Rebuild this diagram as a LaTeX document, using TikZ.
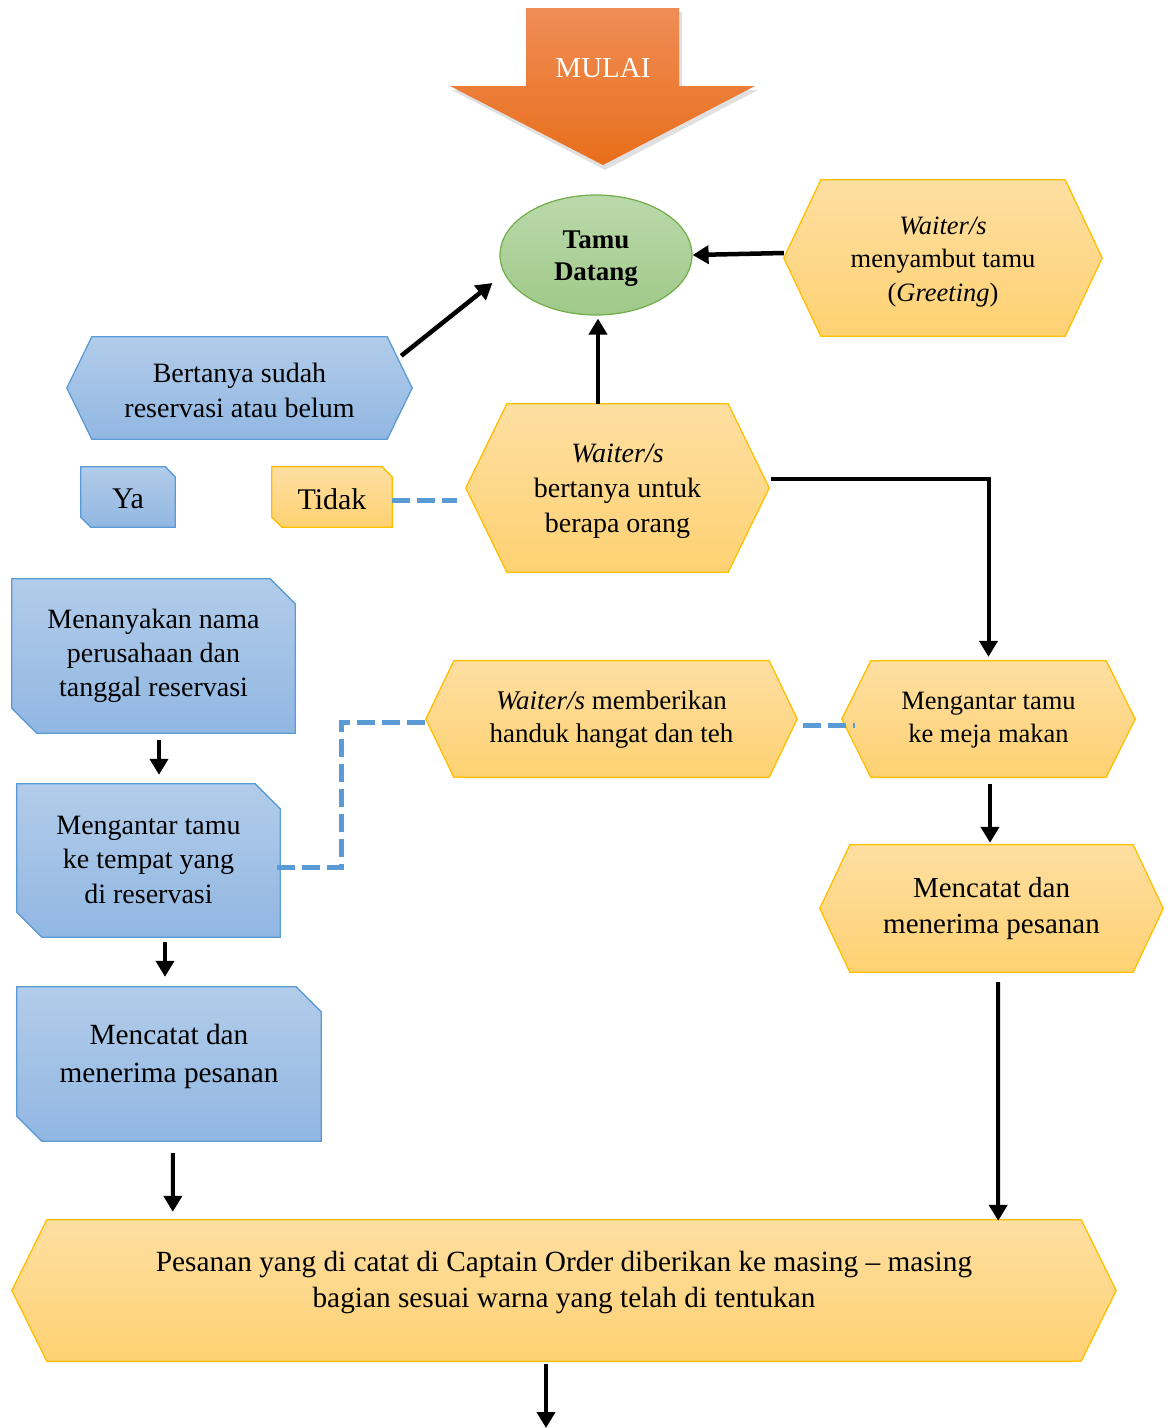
\documentclass[tikz,border=0pt]{standalone}
\usepackage{fontspec}
\setmainfont{Liberation Serif}
\usetikzlibrary{shapes.geometric,arrows.meta,calc,backgrounds}

\definecolor{ytop}{RGB}{254,223,162}
\definecolor{ybot}{RGB}{254,209,114}
\definecolor{yline}{RGB}{255,192,0}
\definecolor{btop}{RGB}{178,204,234}
\definecolor{bbot}{RGB}{145,183,226}
\definecolor{bline}{RGB}{91,155,213}
\definecolor{gtop}{RGB}{186,217,171}
\definecolor{gbot}{RGB}{160,201,137}
\definecolor{gline}{RGB}{112,173,71}
\definecolor{otop}{RGB}{240,141,87}
\definecolor{obot}{RGB}{232,110,26}

\newcommand\fs[2]{\fontsize{#1}{#2}\selectfont}
% hexagon drawn round a named rectangle node
\newcommand\hexbox[3]{\path[#3] (#1.west) -- ($(#1.north west)+(#2,0)$) -- ($(#1.north east)+(-#2,0)$) -- (#1.east) -- ($(#1.south east)+(-#2,0)$) -- ($(#1.south west)+(#2,0)$) -- cycle;}
% snipped-corner box drawn round a named rectangle node
\newcommand\snipbox[3]{\path[#3] (#1.north west) -- ($(#1.north east)+(-#2,0)$) -- ($(#1.north east)+(0,#2)$) -- (#1.south east) -- ($(#1.south west)+(#2,0)$) -- ($(#1.south west)+(0,-#2)$) -- cycle;}

\tikzset{
  shp/.style={rectangle, inner sep=0pt},
  txt/.style={inner sep=0pt, align=center},
  yel/.style={top color=ytop, bottom color=ybot, draw=yline, line width=1.3pt},
  blu/.style={top color=btop, bottom color=bbot, draw=bline, line width=1.3pt},
  arr/.style={line width=4.5pt, -{Triangle[length=16pt,width=18pt]}},
  dsh/.style={line width=5pt, draw=bline, dash pattern=on 18pt off 7pt},
}

\begin{document}
\begin{tikzpicture}[x=1pt,y=-1pt]
\useasboundingbox (0,0) rectangle (1171,1428);

% MULAI arrow (soft shadow then body)
\fill[black, opacity=0.12] (529,12) -- (682,12) -- (682,90) -- (758,90) -- (605,170) -- (452,90) -- (529,90) -- cycle;
\path[top color=otop, bottom color=obot] (526,8) -- (679,8) -- (679,86) -- (755,86) -- (603,165) -- (450,86) -- (526,86) -- cycle;
\node[txt, text=white, font=\fs{29}{31}] (mulai) at (603,68) {MULAI};

% shape nodes
\node[ellipse, draw=gline, line width=1.2pt, top color=gtop, bottom color=gbot,
      minimum width=192pt, minimum height=120pt, inner sep=0pt] (tamu) at (596,255) {};
\node[shp, minimum width=318pt, minimum height=156pt] (greet) at (943,258) {};
\node[shp, minimum width=345pt, minimum height=102pt] (bert) at (239.5,388) {};
\node[shp, minimum width=303pt, minimum height=168pt] (tanya) at (617.5,488) {};
\node[shp, minimum width=94pt, minimum height=60pt] (ya) at (128,497) {};
\node[shp, minimum width=120pt, minimum height=60pt] (tidak) at (332,497) {};
\node[shp, minimum width=283pt, minimum height=154pt] (nama) at (153.5,656) {};
\node[shp, minimum width=263pt, minimum height=153pt] (tempat) at (148.5,860.5) {};
\node[shp, minimum width=304pt, minimum height=154pt] (catatL) at (169,1064) {};
\node[shp, minimum width=371pt, minimum height=116pt] (waitmem) at (611.5,719) {};
\node[shp, minimum width=293pt, minimum height=116pt] (meja) at (988.5,719) {};
\node[shp, minimum width=343pt, minimum height=127pt] (catatR) at (991.5,908.5) {};
\node[shp, minimum width=1104pt, minimum height=141pt] (pesan) at (564,1290.5) {};
\coordinate (endpt) at (546,1428);

% shapes behind the texts
\begin{pgfonlayer}{background}
  \hexbox{greet}{37}{yel}
  \hexbox{bert}{25}{blu}
  \hexbox{tanya}{41}{yel}
  \snipbox{ya}{10}{blu}
  \snipbox{tidak}{10}{yel}
  \snipbox{nama}{25}{blu}
  \snipbox{tempat}{25}{blu}
  \snipbox{catatL}{25}{blu}
  \hexbox{waitmem}{28}{yel}
  \hexbox{meja}{29}{yel}
  \hexbox{catatR}{30}{yel}
  \hexbox{pesan}{35}{yel}
\end{pgfonlayer}

% texts
\node[txt, font=\bfseries\fs{27}{32}] (tamut) at ($(tamu)+(0,4)$) {Tamu\\Datang};
\node[txt, font=\fs{26.5}{33.5}] (greett) at ($(greet)+(0,4)$)
  {\textit{Waiter/s}\\menyambut tamu\\(\textit{Greeting})};
\node[txt, font=\fs{28}{35}] (bertt) at ($(bert)+(0,2)$) {Bertanya sudah\\reservasi atau belum};
\node[txt, font=\fs{28}{35}] (tanyat) at ($(tanya)+(0,3)$) {\textit{Waiter/s}\\bertanya untuk\\berapa orang};
\node[txt, font=\fs{30}{32}] (yat) at ($(ya)+(0,2)$) {Ya};
\node[txt, font=\fs{30}{32}] (tidakt) at ($(tidak)+(0,2)$) {Tidak};
\node[txt, font=\fs{28}{34}] (namat) at ($(nama)+(0,0)$) {Menanyakan nama\\perusahaan dan\\tanggal reservasi};
\node[txt, font=\fs{28}{34.5}] (tempatt) at ($(tempat)+(0,-1)$) {Mengantar tamu\\ke tempat yang\\di reservasi};
\node[txt, font=\fs{29.3}{38}] (catatLt) at ($(catatL)+(0,-8)$) {Mencatat dan\\menerima pesanan};
\node[txt, font=\fs{27}{33}] (waitmemt) at ($(waitmem)+(0,1)$) {\textit{Waiter/s} memberikan\\handuk hangat dan teh};
\node[txt, font=\fs{26.5}{33}] (mejat) at ($(meja)+(0,1)$) {Mengantar tamu\\ke meja makan};
\node[txt, font=\fs{29}{36}] (catatRt) at ($(catatR)+(0,0)$) {Mencatat dan\\menerima pesanan};
\node[txt, font=\fs{29.3}{36}] (pesant) at ($(pesan)+(0,-8)$)
  {Pesanan yang di catat di Captain Order diberikan ke masing -- masing\\bagian sesuai warna yang telah di tentukan};

% connectors
\draw[arr] ($(greet.west)+(0,-5)$) -- (tamu.east);
\draw[arr] ($(bert.north east)+(-11,19)$) -- ($(tamu.west)+(-7,28)$);
\draw[arr] ($(tanya.north)+(-19.5,0)$) -- ($(tamu.south)+(2,3)$);
\draw[dsh] ($(tidak.east)+(0,3)$) -- ($(tanya.west)+(-9,12)$);
\draw[arr, line width=4pt] ($(tanya.east)+(2,-9)$) -| ($(meja.north)+(0,-4)$);
\draw[arr] ($(nama.south)+(5.5,7)$) -- ($(tempat.north)+(10.5,-9)$);
\draw[arr] ($(tempat.south)+(16.5,5)$) -- ($(catatL.north)+(-4,-10)$);
\draw[arr, line width=4pt] ($(catatL.south)+(4,12)$) -- ($(pesan.north west)+(161,-8)$);
\draw[dsh] ($(tempat.east)+(-3,7)$) -| ($(waitmem.west)+(-84,3)$) -- ($(waitmem.west)+(4,3)$);
\draw[dsh] ($(waitmem.east)+(6,6)$) -- ($(meja.west)+(13,6)$);
\draw[arr] ($(meja.south)+(1.5,7)$) -- ($(catatR.north)+(-1.5,-2)$);
\draw[arr, line width=4pt] ($(catatR.south)+(6.5,10)$) -- ($(pesan.north east)+(-118,1)$);
\draw[arr, line width=4pt] ($(pesan.south)+(-18,3)$) -- (endpt);
\end{tikzpicture}
\end{document}
